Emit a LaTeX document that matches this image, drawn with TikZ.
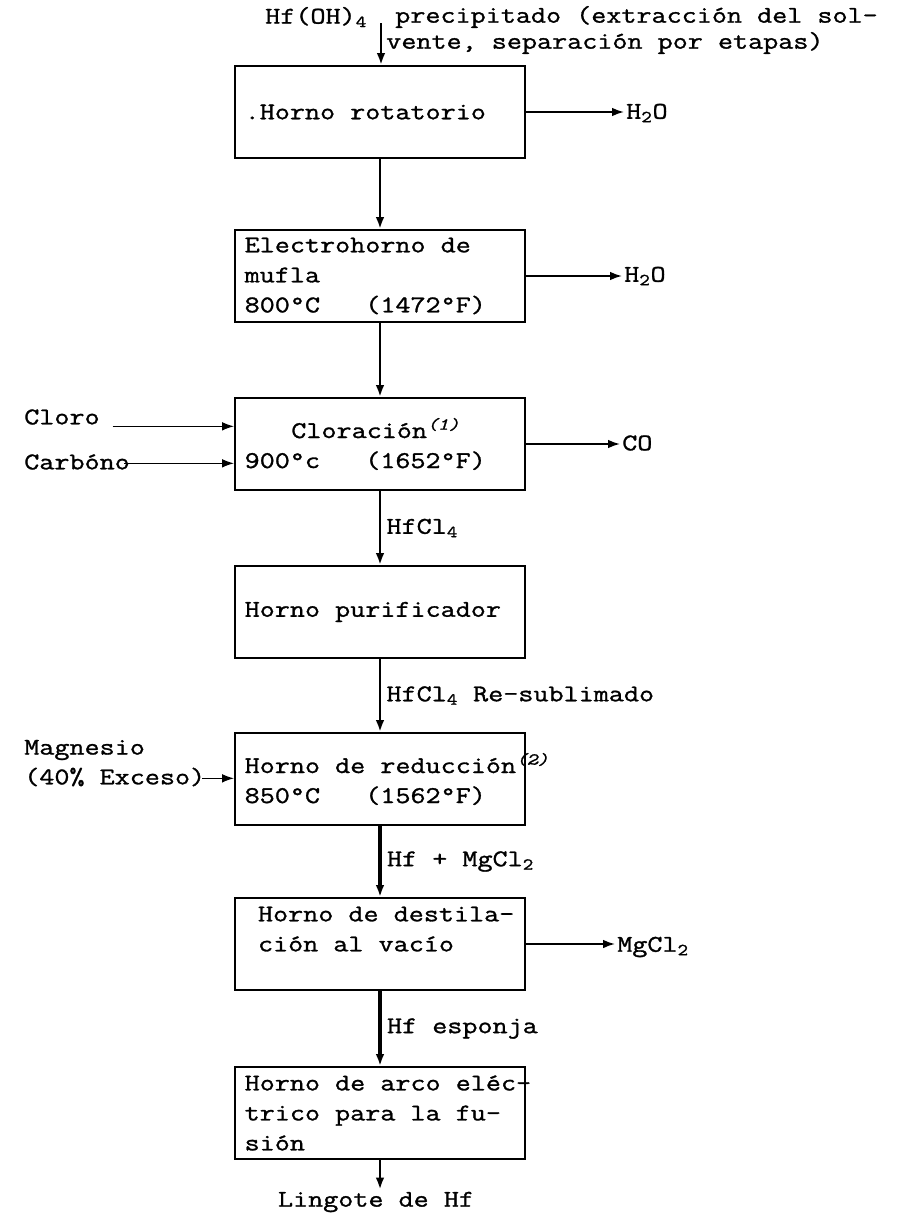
\documentclass[tikz,border=0pt]{standalone}
\usepackage{fontspec}
\setmainfont{Latin Modern Mono}[FakeStretch=1.22,FakeBold=1.2]
\usetikzlibrary{arrows.meta,positioning}

\begin{document}
\begin{tikzpicture}[x=0.75pt,y=-0.75pt,font=\fontsize{18}{22.5}\selectfont,
  every node/.style={inner sep=1.5pt},
  horno/.style={draw,line width=1.4pt,minimum width=217.5pt,minimum height=69pt,
    text width=203pt,inner xsep=7pt,align=flush left},
  flujo/.style={line width=1.8pt,-{Latex[length=9pt,width=6.5pt]}},
  grueso/.style={flujo,line width=2.6pt},
  lado/.style={line width=1.3pt,-{Latex[length=9pt,width=6.5pt]}},
  rotulo/.style={anchor=west,inner xsep=4pt}]
  \useasboundingbox (0,0) rectangle (910,1215);
  \node[anchor=west] (hfoh) at (263,17) {Hf(OH)\textsubscript{4}};
  \node[anchor=west] (prec) at (393,17) {precipitado (extracción del sol-};
  \node[anchor=west] (vente) at (384,43) {vente, separación por etapas)};
  \coordinate (src) at (381,23);
  \node[horno] (rot) at (380,112) {.Horno rotatorio};
  \node[horno] (muf) at (380,276) {Electrohorno de\\mufla\\800\textdegree C~~~(1472\textdegree F)};
  \node[horno] (clo) at (380,444) {\hspace*{35pt}Cloración\textsuperscript{\itshape(1)}\\900\textdegree c~~~(1652\textdegree F)};
  \node[horno] (pur) at (380,612) {Horno purificador};
  \node[horno] (red) at (380,779) {\mbox{Horno de reducción\textsuperscript{\itshape(2)}}\\850\textdegree C~~~(1562\textdegree F)};
  \node[horno] (des) at (380,944) {\mbox{\hspace*{10pt}Horno de destila-}\\\hspace*{10pt}ción al vacío\\\mbox{}};
  \node[horno] (arc) at (380,1113) {\mbox{Horno de arco eléc-}\\trico para la fu-\\sión};
  \node (ling) at (376,1202) {Lingote de Hf};
  \node[anchor=west] (agua1) at (624,113) {H\textsubscript{2}O};
  \node[anchor=west] (agua2) at (622,276) {H\textsubscript{2}O};
  \node[anchor=west] (co) at (620,443) {CO};
  \node[anchor=west] (mgcl) at (615,947) {MgCl\textsubscript{2}};
  \node[anchor=west] (cloro) at (22,417) {Cloro};
  \node[anchor=west] (carbon) at (22,462) {Carbóno};
  \node[anchor=west] (magn) at (22,750) {Magnesio};
  \node[anchor=west] (exceso) at (22,777) {(40\% Exceso)};
  \coordinate (cl) at ([xshift=8pt,yshift=-7pt]cloro.east);
  \coordinate (cb) at ([xshift=-6pt,yshift=-1pt]carbon.east);
  \coordinate (mg) at ([xshift=-4pt,yshift=-1pt]exceso.east);
  \draw[flujo] (src) -- (src |- rot.north);
  \draw[flujo] (rot.south) -- (muf.north);
  \draw[flujo] (muf.south) -- (clo.north);
  \draw[flujo] (clo.south) -- node[rotulo] (hfcl) {HfCl\textsubscript{4}} (pur.north);
  \draw[flujo] (pur.south) -- node[rotulo] (resub) {HfCl\textsubscript{4} Re-sublimado} (red.north);
  \draw[grueso] (red.south) -- node[rotulo] (mezcla) {Hf + MgCl\textsubscript{2}} (des.north);
  \draw[grueso] (des.south) -- node[rotulo] (esponja) {Hf esponja} (arc.north);
  \draw[flujo] (arc.south) -- (arc.south |- ling.north);
  \draw[lado] (rot.east) -- (rot.east -| agua1.west);
  \draw[lado] (muf.east) -- (muf.east -| agua2.west);
  \draw[lado] (clo.east) -- (clo.east -| co.west);
  \draw[lado] (des.east) -- (des.east -| mgcl.west);
  \draw[lado,line width=1pt] (cl) -- (cl -| clo.west);
  \draw[lado,line width=1pt] (cb) -- (cb -| clo.west);
  \draw[lado,line width=1pt] (mg) -- (mg -| red.west);
\end{tikzpicture}
\end{document}
